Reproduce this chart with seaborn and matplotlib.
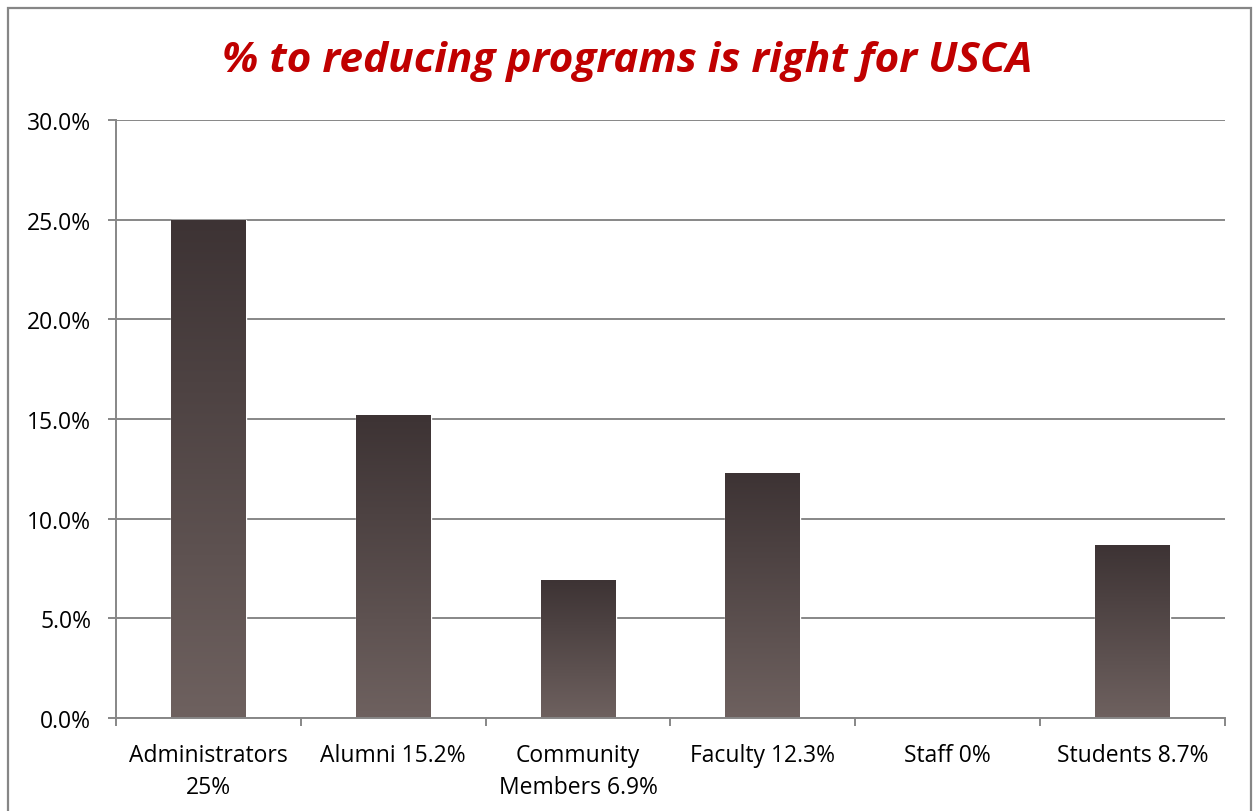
import numpy as np
import pandas as pd
import matplotlib
matplotlib.use("Agg")
import matplotlib.pyplot as plt
from matplotlib.ticker import PercentFormatter, FixedLocator
from matplotlib.patches import Rectangle
from matplotlib.colors import LinearSegmentedColormap
import seaborn as sns

# data
groups = ["Administrators\n25%", "Alumni 15.2%", "Community\nMembers 6.9%",
          "Faculty 12.3%", "Staff 0%", "Students 8.7%"]
pct = [25.0, 15.2, 6.9, 12.3, 0.0, 8.7]
title = "% to reducing programs is right for USCA"

df = pd.DataFrame({"group": groups, "pct": pct})

sns.set_theme(style="white")
plt.rcParams["font.family"] = ["Open Sans", "DejaVu Sans"]

grid_c = "#878787"
fig = plt.figure(figsize=(12.55, 8.12), dpi=100)
ax = fig.add_axes([116 / 1255, 1 - 719 / 812, (1225 - 116) / 1255, (719 - 121) / 812])

sns.barplot(data=df, x="group", y="pct", color="#5a4e4d", width=0.405,
            saturation=1, ax=ax)

# vertical gradient fill inside each bar (dark top -> lighter bottom)
cmap = LinearSegmentedColormap.from_list("barfade", ["#6e615f", "#3d3334"])
grad = np.linspace(0, 1, 256).reshape(-1, 1)
for p in ax.patches:
    x0, y0 = p.get_x(), p.get_y()
    w, h = p.get_width(), p.get_height()
    if h <= 0:
        continue
    im = ax.imshow(grad, cmap=cmap, origin="lower", aspect="auto",
                   extent=[x0, x0 + w, y0, y0 + h], zorder=p.get_zorder() + 0.1)
    im.set_clip_path(p)

ax.set_xlim(-0.5, 5.5)
ax.set_ylim(0, 30)
ax.set_yticks(np.arange(0, 31, 5))
ax.yaxis.set_major_formatter(PercentFormatter(decimals=1))
ax.set_axisbelow(True)
ax.yaxis.grid(True, color=grid_c, lw=1.4)
ax.set_xlabel("")
ax.set_ylabel("")

for s in ["top", "right"]:
    ax.spines[s].set_visible(False)
for s in ["left", "bottom"]:
    ax.spines[s].set_color(grid_c)
    ax.spines[s].set_linewidth(1.4)

ax.tick_params(axis="y", which="major", left=True, length=6, width=1.4,
               color=grid_c, labelsize=16.5, labelcolor="black", pad=12)
ax.tick_params(axis="x", which="major", bottom=False, length=0,
               labelsize=16.5, labelcolor="black", pad=18)
ax.xaxis.set_minor_locator(FixedLocator(np.arange(-0.5, 6, 1)))
ax.tick_params(axis="x", which="minor", bottom=True, length=6, width=1.4,
               color=grid_c)
for lbl in ax.get_xticklabels():
    lbl.set_linespacing(1.45)

fig.text(0.5, 1 - 62 / 812, title, ha="center", va="center", color="#c00000",
         fontsize=30.5, fontweight="bold", fontstyle="italic")

# chart-area border
fig.patches.append(Rectangle((8 / 1255, -0.05), (1251 - 8) / 1255, 1 - 9 / 812 + 0.05,
                             transform=fig.transFigure, fill=False,
                             edgecolor="#868686", lw=1.6))

fig.savefig("out.png", dpi=100)
